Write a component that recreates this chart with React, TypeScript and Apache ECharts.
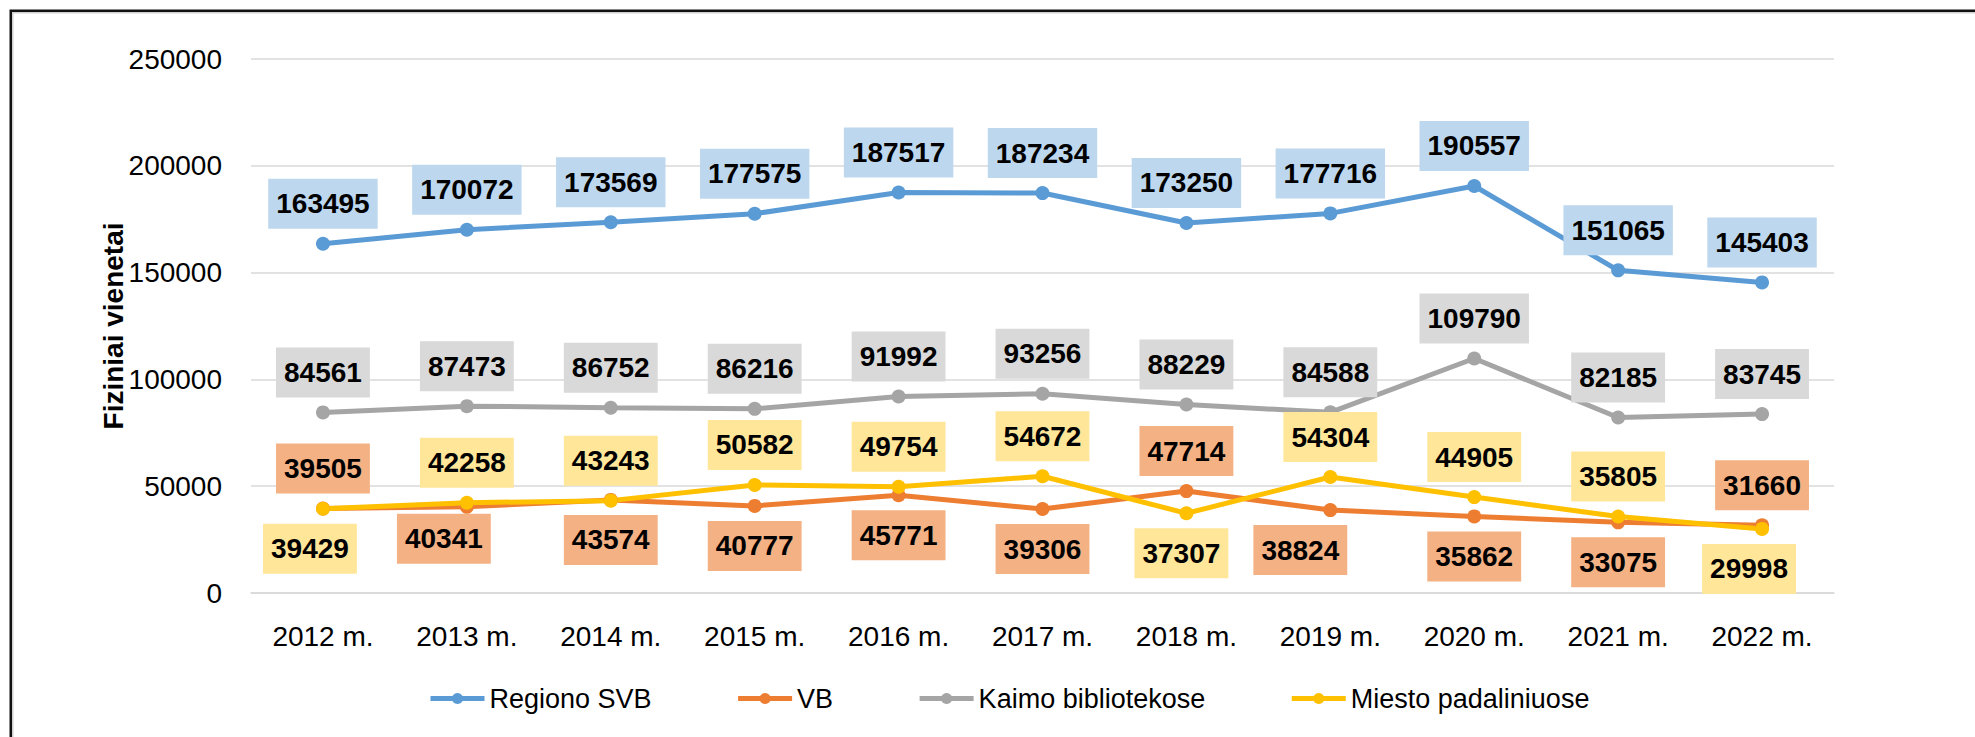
import React, { useEffect, useRef } from "react";
import * as echarts from "echarts";

const categories = ["2012 m.", "2013 m.", "2014 m.", "2015 m.", "2016 m.", "2017 m.", "2018 m.", "2019 m.", "2020 m.", "2021 m.", "2022 m."];
const regionoSVB = [163495, 170072, 173569, 177575, 187517, 187234, 173250, 177716, 190557, 151065, 145403];
const vb = [39505, 40341, 43574, 40777, 45771, 39306, 47714, 38824, 35862, 33075, 31660];
const kaimo = [84561, 87473, 86752, 86216, 91992, 93256, 88229, 84588, 109790, 82185, 83745];
const miesto = [39429, 42258, 43243, 50582, 49754, 54672, 37307, 54304, 44905, 35805, 29998];
const yTicks = { min: 0, max: 250000, interval: 50000 };

// label placement per point: "t" = above, "b" = below
const vbPos = ["t", "b", "b", "b", "b", "b", "t", "b", "b", "b", "t"];
const miestoPos = ["b", "t", "t", "t", "t", "t", "b", "t", "t", "t", "b"];
const vbOffset = [[0, 0], [-23, -8], [0, 0], [0, 0], [0, 0], [0, 0], [0, 0], [-30, 0], [0, 0], [0, 0], [0, 0]];
const miestoOffset = [[-13, 0], [0, 0], [0, 0], [0, 0], [0, 0], [0, 0], [-5, 0], [0, 0], [0, 0], [0, 0], [-13, 0]];

const FONT = "'Liberation Sans', Arial, sans-serif";

function makeData(values: number[], pos?: string[], offs?: number[][]) {
  return values.map((v, i) => {
    const item: any = { value: v };
    if (pos) {
      item.label = { position: pos[i] === "t" ? "top" : "bottom" };
      if (offs && (offs[i][0] !== 0 || offs[i][1] !== 0)) item.label.offset = offs[i];
    }
    return item;
  });
}

function seriesOf(name: string, values: number[], color: string, boxColor: string, pos?: string[], offs?: number[][]) {
  return {
    name,
    type: "line",
    data: makeData(values, pos, offs),
    symbol: "circle",
    symbolSize: 14,
    lineStyle: { color, width: 5 },
    itemStyle: { color },
    label: {
      show: true,
      position: "top",
      distance: 8,
      color: "#000",
      fontFamily: FONT,
      fontSize: 28,
      fontWeight: "bold",
      lineHeight: 28,
      backgroundColor: boxColor,
      padding: [11, 8, 11, 8],
    },
  };
}

export default function App() {
  const ref = useRef<HTMLDivElement>(null);
  useEffect(() => {
    if (!ref.current) return;
    const chart = echarts.init(ref.current, undefined, { renderer: "svg" });
    chart.setOption({
      animation: false,
      backgroundColor: "#fff",
      color: ["#5B9BD5", "#ED7D31", "#A5A5A5", "#FFC000"],
      textStyle: { fontFamily: FONT },
      graphic: [
        {
          type: "rect",
          shape: { x: 10.75, y: 10.75, width: 2100, height: 1000 },
          style: { fill: "none", stroke: "#111", lineWidth: 2.5 },
          silent: true,
        },
        {
          type: "rect",
          shape: { x: 12.75, y: 12.75, width: 2100, height: 1000 },
          style: { fill: "none", stroke: "#D0D0D0", lineWidth: 1.5 },
          silent: true,
        },
      ],
      grid: { left: 251, right: 141, top: 59, bottom: 144, containLabel: false },
      legend: {
        left: 428,
        top: 685,
        itemWidth: 54,
        itemHeight: 14,
        itemGap: 84,
        padding: 0,
        lineStyle: { width: 5 },
        textStyle: { fontFamily: FONT, fontSize: 27, color: "#000" },
        data: ["Regiono SVB", "VB", "Kaimo bibliotekose", "Miesto padaliniuose"],
      },
      xAxis: {
        type: "category",
        data: categories,
        boundaryGap: true,
        axisTick: { show: false },
        axisLine: { show: true, lineStyle: { color: "#D9D9D9", width: 1.5 } },
        axisLabel: { margin: 29, fontSize: 28, color: "#000", fontFamily: FONT },
      },
      yAxis: {
        type: "value",
        min: yTicks.min,
        max: yTicks.max,
        interval: yTicks.interval,
        name: "Fiziniai vienetai",
        nameLocation: "middle",
        nameGap: 124,
        nameMoveOverlap: false,
        nameTextStyle: { fontSize: 28, fontWeight: "bold", color: "#000", fontFamily: FONT },
        axisLine: { show: false },
        axisTick: { show: false },
        splitLine: { lineStyle: { color: "#D9D9D9", width: 1.5 } },
        axisLabel: {
          margin: 29,
          fontSize: 28,
          color: "#000",
          fontFamily: FONT,
          formatter: (v: number) => String(v),
        },
      },
      series: [
        seriesOf("Regiono SVB", regionoSVB, "#5B9BD5", "#BDD7EE"),
        seriesOf("VB", vb, "#ED7D31", "#F4B183", vbPos, vbOffset),
        seriesOf("Kaimo bibliotekose", kaimo, "#A5A5A5", "#D9D9D9"),
        seriesOf("Miesto padaliniuose", miesto, "#FFC000", "#FFE699", miestoPos, miestoOffset),
      ],
    });
    return () => chart.dispose();
  }, []);
  return <div ref={ref} style={{ position: "absolute", left: 0, top: 0, width: 1975, height: 737 }} />;
}
